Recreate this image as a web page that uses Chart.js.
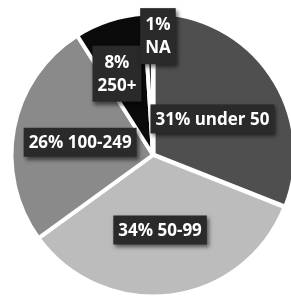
<!DOCTYPE html>
<html>
<head>
<meta charset="utf-8">
<script src="https://cdn.jsdelivr.net/npm/chart.js@4"></script>
<style>
  html, body { margin: 0; padding: 0; overflow: hidden; background: #fff; }
  #wrap { position: absolute; left: 0; top: 0; width: 306px; height: 310px; }
</style>
</head>
<body>
<div id="wrap"><canvas id="mychart" width="306" height="310"></canvas></div>
<script>
let categories = ['under 50', '50-99', '100-249', '250+', 'NA'];
let percents = [31, 34, 26, 8, 1];
let colors = ['#4f4f4f', '#bcbcbc', '#8a8a8a', '#0b0b0b', '#333333'];
let labelLines = [
  ['31% under 50'],
  ['34% 50-99'],
  ['26% 100-249'],
  ['8%', '250+'],
  ['1%', 'NA']
];

// where each label box sits, relative to the pie centre (in radii)
let labelSpots = [[0.42, -0.255], [0.05, 0.53], [-0.515, -0.09], [-0.255, -0.575], [0.035, -0.84]];

let boxLabels = {
  id: 'boxLabels',
  afterDatasetsDraw(chart) {
    let ctx = chart.ctx;
    let arcs = chart.getDatasetMeta(0).data;
    let cx = arcs[1].x, cy = arcs[1].y, r = arcs[1].outerRadius;
    ctx.save();
    ctx.font = 'bold 17px "Open Sans"';
    ctx.textAlign = 'center';
    ctx.textBaseline = 'middle';
    labelLines.forEach((lines, i) => {
      let x = cx + labelSpots[i][0] * r;
      let y = cy + labelSpots[i][1] * r;
      let w = Math.max(...lines.map(t => ctx.measureText(t).width)) + 10;
      let lh = 23;
      let h = lines.length * lh + (lines.length > 1 ? 10 : 6);
      ctx.shadowColor = 'rgba(0,0,0,0.55)';
      ctx.shadowBlur = 4;
      ctx.shadowOffsetX = 2;
      ctx.shadowOffsetY = 3;
      ctx.fillStyle = '#2a2a2a';
      ctx.fillRect(x - w / 2, y - h / 2, w, h);
      ctx.shadowColor = 'transparent';
      ctx.fillStyle = '#ffffff';
      lines.forEach((t, k) => {
        ctx.fillText(t, x, y + (k - (lines.length - 1) / 2) * lh + 1);
      });
    });
    ctx.restore();
  }
};

let myChart = new Chart(document.querySelector('#mychart').getContext('2d'), {
  type: 'pie',
  data: {
    labels: categories,
    datasets: [{
      data: percents,
      backgroundColor: colors,
      borderColor: '#ffffff',
      borderWidth: 4,
      offset: [3, 0, 0, 0, 0]
    }]
  },
  options: {
    responsive: false,
    animation: false,
    layout: { padding: 8 },
    plugins: {
      legend: { display: false },
      tooltip: { enabled: false },
      title: { display: false }
    }
  },
  plugins: [boxLabels]
});
</script>
</body>
</html>
